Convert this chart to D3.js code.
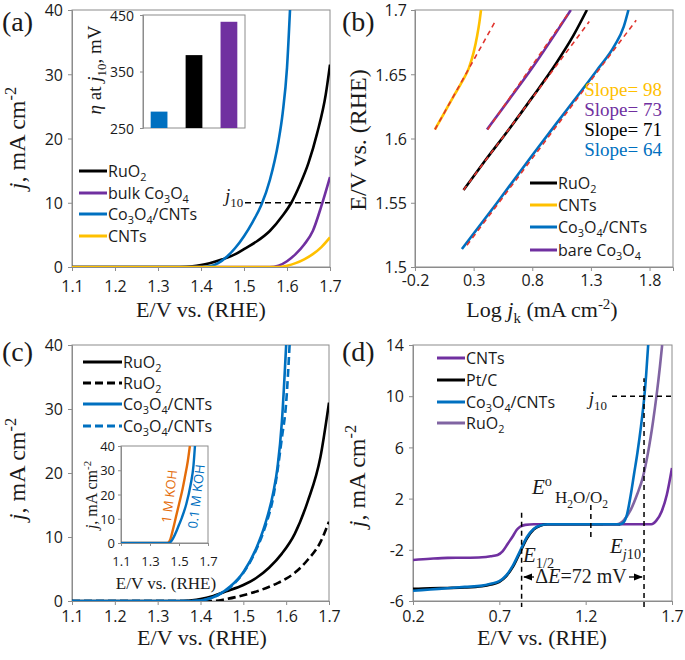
<!DOCTYPE html>
<html><head><meta charset="utf-8">
<script src="https://cdn.jsdelivr.net/npm/d3@7"></script>
<style>body{margin:0;background:#fff}svg{display:block}</style>
</head><body><svg id="c" width="685" height="660"></svg>
<script>
// ---------------- DATA ----------------
// Panel (a): LSV OER curves [E (V vs RHE), j (mA cm-2)]
const aNames = ["RuO2", "bulk Co3O4", "Co3O4/CNTs", "CNTs"];
const aRuO2 = [[1.1,0],[1.35,0],[1.38,0.1],[1.40,0.3],[1.42,0.6],[1.45,1.2],[1.48,2.0],[1.50,2.8],[1.53,4.0],[1.56,5.6],[1.59,8.0],[1.61,10],[1.63,12.8],[1.65,16.2],[1.67,20.8],[1.69,26.8],[1.70,31.5]];
const aBulk = [[1.1,0],[1.56,0],[1.58,0.2],[1.60,0.9],[1.62,2.0],[1.64,3.5],[1.66,5.6],[1.68,9.5],[1.70,14]];
const aCoCNT = [[1.1,0],[1.40,0],[1.42,0.1],[1.44,0.6],[1.46,1.6],[1.48,3.0],[1.50,4.8],[1.52,7.0],[1.54,9.6],[1.56,13.5],[1.58,19.5],[1.59,24],[1.60,31],[1.607,40]];
const aCNTs = [[1.1,0],[1.58,0],[1.60,0.2],[1.62,0.6],[1.64,1.2],[1.66,2.0],[1.68,3.1],[1.70,4.6]];
const aXTicks = [1.1,1.2,1.3,1.4,1.5,1.6,1.7];
const aYTicks = [0,10,20,30,40];
// Inset (a): overpotential at j10 (mV)
const etaCats = ["Co3O4/CNTs", "RuO2", "bulk Co3O4"];
const etaVals = [279, 379, 438];
const etaTicks = [250, 350, 450];

// Panel (b): Tafel plots [log jk, E]
const bNames = ["RuO2", "CNTs", "Co3O4/CNTs", "bare Co3O4"];
const bRuO2 = [[0.214,1.560],[0.4,1.583],[0.6,1.607],[0.8,1.632],[1.0,1.658],[1.15,1.680],[1.266,1.700]];
const bCNTs = [[-0.03,1.607],[0.05,1.620],[0.13,1.633],[0.20,1.644],[0.26,1.655],[0.30,1.667],[0.33,1.680],[0.35,1.691],[0.363,1.700]];
const bCoCNT = [[0.20,1.514],[0.5,1.550],[0.8,1.587],[1.1,1.623],[1.35,1.653],[1.5,1.672],[1.58,1.687],[1.62,1.700]];
const bBare = [[0.414,1.607],[0.6,1.630],[0.8,1.655],[1.0,1.682],[1.129,1.700]];
const bFitRuO2 = [[0.214,1.560],[1.286,1.691]];
const bFitCNTs = [[-0.03,1.607],[0.477,1.690]];
const bFitCoCNT = [[0.243,1.517],[1.686,1.692]];
const bFitBare = [[0.42,1.607],[1.12,1.699]];
const bSlopes = ["Slope= 98", "Slope= 73", "Slope= 71", "Slope= 64"];
const bXTicks = [-0.2,0.3,0.8,1.3,1.8];
const bYTicks = [1.5,1.55,1.6,1.65,1.7];

// Panel (c): LSV, solid vs dashed conditions
const cNames = ["RuO2", "RuO2", "Co3O4/CNTs", "Co3O4/CNTs"];
const cRuO2 = [[1.1,0],[1.36,0],[1.38,0.1],[1.40,0.3],[1.43,0.8],[1.46,1.5],[1.50,2.5],[1.53,3.6],[1.56,5.2],[1.59,7.4],[1.62,10.5],[1.65,15.5],[1.68,22.5],[1.70,31]];
const cRuO2d = [[1.1,0],[1.43,0],[1.46,0.3],[1.50,0.9],[1.54,1.7],[1.58,2.8],[1.60,3.5],[1.62,4.4],[1.65,6.4],[1.68,9.2],[1.70,12.4]];
const cCoCNT = [[1.1,0],[1.38,0],[1.41,0.2],[1.44,0.9],[1.47,2.3],[1.50,4.5],[1.53,8.2],[1.55,11.8],[1.57,17],[1.58,21],[1.59,28],[1.600,40]];
const cCoCNTd = [[1.1,0],[1.38,0],[1.41,0.2],[1.44,0.9],[1.47,2.2],[1.50,4.4],[1.53,8.0],[1.55,11.4],[1.57,16.3],[1.59,25.5],[1.60,31],[1.608,40]];
const cXTicks = [1.1,1.2,1.3,1.4,1.5,1.6,1.7];
const cYTicks = [0,10,20,30,40];
// Inset (c): electrolyte comparison
const ciNames = ["1 M KOH", "0.1 M KOH"];
const ci1M = [[1.1,0],[1.42,0],[1.44,1.5],[1.46,6],[1.48,11],[1.50,16],[1.52,21],[1.54,27],[1.56,33.5],[1.575,40]];
const ci01M = [[1.1,0],[1.43,0],[1.45,1],[1.48,4.5],[1.50,7.5],[1.52,10.5],[1.55,16],[1.58,24],[1.60,32],[1.61,40]];
const ciXTicks = [1.1,1.3,1.5,1.7];
const ciYTicks = [0,10,20,30,40];

// Panel (d): bifunctional ORR/OER
const dNames = ["CNTs", "Pt/C", "Co3O4/CNTs", "RuO2"];
const dCNTs = [[0.2,-2.8],[0.3,-2.7],[0.4,-2.63],[0.5,-2.62],[0.6,-2.58],[0.65,-2.5],[0.69,-2.4],[0.72,-2.1],[0.75,-1.5],[0.78,-0.9],[0.80,-0.45],[0.82,-0.2],[0.85,-0.05],[0.9,0],[1.5,0],[1.58,0],[1.61,0.3],[1.64,1.0],[1.67,2.3],[1.70,4.4]];
const dPtC = [[0.2,-5.05],[0.3,-5.0],[0.4,-4.98],[0.5,-4.95],[0.6,-4.85],[0.65,-4.72],[0.70,-4.5],[0.74,-4.05],[0.78,-3.3],[0.82,-2.2],[0.86,-1.1],[0.90,-0.4],[0.94,-0.1],[0.98,0],[1.40,0]];
const dCoCNT = [[0.2,-5.2],[0.3,-5.1],[0.4,-5.0],[0.5,-4.9],[0.6,-4.8],[0.65,-4.65],[0.70,-4.45],[0.74,-4.0],[0.78,-3.2],[0.82,-2.1],[0.86,-1.0],[0.90,-0.35],[0.94,-0.08],[0.98,0],[1.40,0],[1.42,0.15],[1.44,0.8],[1.46,2.2],[1.48,3.9],[1.50,5.6],[1.52,7.6],[1.54,10],[1.55,11.6],[1.562,14]];
const dRuO2 = [[1.3,0],[1.38,0],[1.42,0.3],[1.46,1.1],[1.50,2.4],[1.53,3.6],[1.56,5.5],[1.59,8.0],[1.61,10],[1.63,12.3],[1.643,14]];
const dE12 = 0.829, dE0 = 1.23, dEj10 = 1.538, dJ10 = 10;
const dXTicks = [0.2,0.7,1.2,1.7];
const dYTicks = [-6,-2,2,6,10,14];

// ---------------- DRAWING ----------------
const BLUE = "#0070C0", PURPLE = "#7030A0", YELLOW = "#FFC000", LPURPLE = "#8064A2",
      ORANGE = "#E46C0A", RED = "#E0342E", FRAME = "#8c8c8c";
const SANS = "'Open Sans', 'Noto Sans', sans-serif";
const SERIF = "'Liberation Serif', 'Times New Roman', serif";
const svg = d3.select("#c");

function rich(t, parts, fs) {
  let shift = 0;
  parts.forEach(([s, k]) => {
    const sp = t.append("tspan").text(s);
    let target = 0, size = fs;
    if (k.includes("sub")) { target = fs * 0.28; size = fs * 0.68; }
    if (k.includes("sup")) { target = -fs * 0.38; size = fs * 0.68; }
    if (k.includes("i")) sp.attr("font-style", "italic");
    sp.attr("dy", target - shift).attr("font-size", size);
    shift = target;
  });
  return t;
}
function chem(str) {
  const parts = [];
  str.split(/(\d+)/).forEach((s, i) => { if (s) parts.push([s, i % 2 ? "sub" : ""]); });
  return parts;
}

function makePanel(p) {
  const x = d3.scaleLinear().domain(p.xd).range([p.x0, p.x1]);
  const y = d3.scaleLinear().domain(p.yd).range([p.y1, p.y0]);
  const g = svg.append("g");
  const id = "clip" + p.id;
  svg.append("clipPath").attr("id", id).append("rect")
    .attr("x", p.x0).attr("y", p.y0).attr("width", p.x1 - p.x0).attr("height", p.y1 - p.y0);
  g.append("rect").attr("x", p.x0).attr("y", p.y0).attr("width", p.x1 - p.x0).attr("height", p.y1 - p.y0)
    .attr("fill", "#fff").attr("stroke", FRAME).attr("stroke-width", 1);
  const fs = p.fs || 16;
  const xa = g.append("g").attr("transform", `translate(0,${p.y1})`)
    .call(d3.axisBottom(x).tickValues(p.xt).tickSize(p.ts || 4).tickFormat(p.xf));
  const ya = g.append("g").attr("transform", `translate(${p.x0},0)`)
    .call(d3.axisLeft(y).tickValues(p.yt).tickSize(p.ts || 4).tickFormat(p.yf));
  [xa, ya].forEach(a => {
    a.select(".domain").attr("stroke", FRAME);
    a.selectAll("line").attr("stroke", FRAME);
    a.selectAll("text").attr("font-family", SANS).attr("font-size", fs).attr("fill", "#1a1a1a");
  });
  xa.selectAll("text").attr("y", p.xly).attr("dy", "0.36em");
  ya.selectAll("text").attr("x", -p.ylx).attr("dy", "0.36em");
  const plot = svg.append("g").attr("clip-path", `url(#${id})`);
  return { x, y, plot, g };
}
function drawLine(P, data, color, w, dash) {
  const line = d3.line().x(d => P.x(d[0])).y(d => P.y(d[1])).curve(d3.curveMonotoneX);
  const path = P.plot.append("path").datum(data).attr("d", line)
    .attr("fill", "none").attr("stroke", color).attr("stroke-width", w)
    .attr("stroke-linejoin", "round");
  if (dash) path.attr("stroke-dasharray", dash);
  return path;
}
function legend(x0, x1, ys, names, colors, dashes, fs) {
  names.forEach((n, i) => {
    const l = svg.append("line").attr("x1", x0).attr("x2", x1).attr("y1", ys[i]).attr("y2", ys[i])
      .attr("stroke", colors[i]).attr("stroke-width", 3);
    if (dashes && dashes[i]) l.attr("stroke-dasharray", dashes[i]);
    const t = svg.append("text").attr("x", x1 + 1).attr("y", ys[i] + fs * 0.36)
      .attr("font-family", SANS).attr("font-size", fs).attr("fill", "#1a1a1a");
    rich(t, chem(n), fs);
  });
}
function serifText(x, y, parts, fs, opts = {}) {
  const t = svg.append("text").attr("x", x).attr("y", y).attr("font-family", SERIF)
    .attr("font-size", fs).attr("fill", opts.fill || "#1a1a1a").attr("text-anchor", opts.anchor || "start");
  if (opts.rotate) t.attr("transform", `rotate(${opts.rotate},${x},${y})`);
  rich(t, parts, fs);
  return t;
}
const f1 = d => d.toFixed(1);
const fs0 = d => String(d);
const yTitle = [["j", "i"], [", mA cm", ""], ["-2", "sup"]];

// ===== Panel (a) =====
const A = makePanel({ id: "a", x0: 72, x1: 330, y0: 10, y1: 267, xd: [1.1, 1.7], yd: [0, 40],
  xt: aXTicks, yt: aYTicks, xf: f1, yf: fs0, xly: 19, ylx: 9 });
drawLine(A, aRuO2, "#000", 2.6);
drawLine(A, aBulk, PURPLE, 2.6);
drawLine(A, aCoCNT, BLUE, 2.6);
drawLine(A, aCNTs, YELLOW, 2.6);
// j10 marker
svg.append("line").attr("x1", 245).attr("x2", A.x(1.7)).attr("y1", A.y(10)).attr("y2", A.y(10))
  .attr("stroke", "#000").attr("stroke-width", 1.5).attr("stroke-dasharray", "6,4");
serifText(225, A.y(10) - 1, [["j", "i"], ["10", "sub"]], 19);
legend(79, 107, [171, 193, 214, 236], aNames, ["#000", PURPLE, BLUE, YELLOW], null, 16);
// inset (a) bar chart
{
  const ix0 = 143, ix1 = 245, iy0 = 15, iy1 = 128;
  const xb = d3.scaleBand().domain(etaCats).range([ix0, ix1]).paddingInner(0.52).paddingOuter(0.22);
  const yb = d3.scaleLinear().domain([250, 450]).range([iy1, iy0]);
  svg.append("rect").attr("x", ix0).attr("y", iy0).attr("width", ix1 - ix0).attr("height", iy1 - iy0)
    .attr("fill", "#fff").attr("stroke", FRAME);
  svg.selectAll(".bar").data(etaCats).enter().append("rect")
    .attr("x", d => xb(d)).attr("width", xb.bandwidth())
    .attr("y", (d, i) => yb(etaVals[i])).attr("height", (d, i) => yb(250) - yb(etaVals[i]))
    .attr("fill", (d, i) => [BLUE, "#000", PURPLE][i]);
  const ay = svg.append("g").attr("transform", `translate(${ix0},0)`)
    .call(d3.axisLeft(yb).tickValues(etaTicks).tickSize(3));
  ay.select(".domain").attr("stroke", FRAME);
  ay.selectAll("line").attr("stroke", FRAME);
  ay.selectAll("text").attr("font-family", SANS).attr("font-size", 14).attr("fill", "#1a1a1a")
    .attr("x", -9).attr("dy", "0.36em");
  serifText(101, 70, [["η", "i"], [" at ", ""], ["j", "i"], ["10", "sub"], [", mV", ""]], 19,
    { anchor: "middle", rotate: -90 });
}
serifText(201, 317, [["E/V vs. (RHE)", ""]], 22, { anchor: "middle" });
serifText(25, 138, yTitle, 24, { anchor: "middle", rotate: -90 });
serifText(2, 31, [["(a)", ""]], 28);

// ===== Panel (b) =====
const B = makePanel({ id: "b", x0: 415, x1: 673, y0: 10, y1: 267, xd: [-0.2, 2.0], yd: [1.5, 1.7],
  xt: bXTicks, yt: bYTicks, xf: f1, yf: fs0, xly: 13, ylx: 8 });
drawLine(B, bRuO2, "#000", 2.6);
drawLine(B, bCNTs, YELLOW, 2.6);
drawLine(B, bCoCNT, BLUE, 2.6);
drawLine(B, bBare, PURPLE, 2.6);
[bFitRuO2, bFitCNTs, bFitCoCNT, bFitBare].forEach(f => drawLine(B, f, RED, 1.6, "5,4"));
bSlopes.forEach((s, i) => serifText(662, 96 + 20 * i, [[s, ""]], 19,
  { anchor: "end", fill: [YELLOW, PURPLE, "#000", BLUE][i] }));
legend(530, 557, [183, 205, 227, 250], bNames, ["#000", YELLOW, BLUE, PURPLE], null, 16);
serifText(542, 317, [["Log ", ""], ["j", "i"], ["k", "sub"], [" (mA cm", ""], ["-2", "sup"], [")", ""]], 22, { anchor: "middle" });
serifText(366, 140, [["E/V vs. (RHE)", ""]], 24, { anchor: "middle", rotate: -90 });
serifText(342, 31, [["(b)", ""]], 28);

// ===== Panel (c) =====
const C = makePanel({ id: "c", x0: 72, x1: 329, y0: 345, y1: 601, xd: [1.1, 1.7], yd: [0, 40],
  xt: cXTicks, yt: cYTicks, xf: f1, yf: fs0, xly: 15, ylx: 9 });
drawLine(C, cRuO2, "#000", 2.6);
drawLine(C, cRuO2d, "#000", 2.6, "8,4");
drawLine(C, cCoCNT, BLUE, 2.6);
drawLine(C, cCoCNTd, BLUE, 2.6, "8,4");
legend(83, 122, [362, 383, 404, 426], cNames, ["#000", "#000", BLUE, BLUE], [null, "8,4", null, "8,4"], 16);
// inset (c)
{
  const CI = makePanel({ id: "ci", x0: 121, x1: 208, y0: 446, y1: 543, xd: [1.1, 1.7], yd: [0, 40],
    xt: ciXTicks, yt: ciYTicks, xf: f1, yf: fs0, xly: 18, ylx: 6, fs: 13, ts: 3 });
  drawLine(CI, ci1M, ORANGE, 2.4);
  drawLine(CI, ci01M, BLUE, 2.4);
  const lab = (x, y, s, c) => svg.append("text").attr("x", x).attr("y", y).attr("text-anchor", "middle")
    .attr("font-family", SANS).attr("font-size", 13).attr("fill", c)
    .attr("transform", `rotate(-83,${x},${y})`).text(s);
  lab(174, 497, ciNames[0], ORANGE);
  lab(201, 497, ciNames[1], BLUE);
  serifText(166, 589, [["E/V vs. (RHE)", ""]], 17, { anchor: "middle" });
  serifText(97, 495, yTitle, 16, { anchor: "middle", rotate: -90 });
}
serifText(202, 645, [["E/V vs. (RHE)", ""]], 22, { anchor: "middle" });
serifText(25, 469, yTitle, 24, { anchor: "middle", rotate: -90 });
serifText(2, 361, [["(c)", ""]], 28);

// ===== Panel (d) =====
const D = makePanel({ id: "d", x0: 413, x1: 672, y0: 345, y1: 601, xd: [0.2, 1.7], yd: [-6, 14],
  xt: dXTicks, yt: dYTicks, xf: f1, yf: fs0, xly: 15, ylx: 9 });
drawLine(D, dCNTs, PURPLE, 2.6);
drawLine(D, dPtC, "#000", 2.6);
drawLine(D, dRuO2, LPURPLE, 2.6);
drawLine(D, dCoCNT, BLUE, 2.6);
const dash = (x1, y1, x2, y2) => svg.append("line").attr("x1", x1).attr("y1", y1).attr("x2", x2).attr("y2", y2)
  .attr("stroke", "#000").attr("stroke-width", 1.5).attr("stroke-dasharray", "5,4");
dash(D.x(dEj10), D.y(-6) + 6, D.x(dEj10), D.y(11.4));
dash(612, D.y(dJ10), D.x(1.7), D.y(dJ10));
dash(D.x(dE12), D.y(0.9), D.x(dE12), D.y(-6) + 6);
dash(D.x(dE0), D.y(1.5), D.x(dE0), D.y(-1.0));
serifText(607, 405, [["j", "i"], ["10", "sub"]], 19, { anchor: "end" });
serifText(532, 494, [["E", "i"], ["o", "sup"]], 21);
serifText(555, 503, [["H", ""], ["2", "sub"], ["O/O", ""], ["2", "sub"]], 17);
serifText(523, 562, [["E", "i"], ["1/2", "sub"]], 21);
serifText(610, 553, [["E", "i"], ["j", "isub"], ["10", "sub"]], 21);
// ΔE arrow
svg.append("defs").html('<marker id="ah" viewBox="0 0 10 10" refX="9" refY="5" markerWidth="7" markerHeight="7" orient="auto-start-reverse"><path d="M0,1 L10,5 L0,9 z" fill="#000"/></marker>');
svg.append("line").attr("x1", 534).attr("x2", 524).attr("y1", 577).attr("y2", 577)
  .attr("stroke", "#000").attr("stroke-width", 1.3).attr("marker-end", "url(#ah)");
svg.append("line").attr("x1", 629).attr("x2", 642).attr("y1", 577).attr("y2", 577)
  .attr("stroke", "#000").attr("stroke-width", 1.3).attr("marker-end", "url(#ah)");
serifText(581, 583, [["Δ", ""], ["E", "i"], ["=72 mV", ""]], 20, { anchor: "middle" });
legend(437, 465, [358, 380, 402, 423], dNames, [PURPLE, "#000", BLUE, LPURPLE], null, 16);
serifText(542, 645, [["E/V vs. (RHE)", ""]], 22, { anchor: "middle" });
serifText(365, 476, yTitle, 24, { anchor: "middle", rotate: -90 });
serifText(342, 361, [["(d)", ""]], 28);
</script></body></html>
